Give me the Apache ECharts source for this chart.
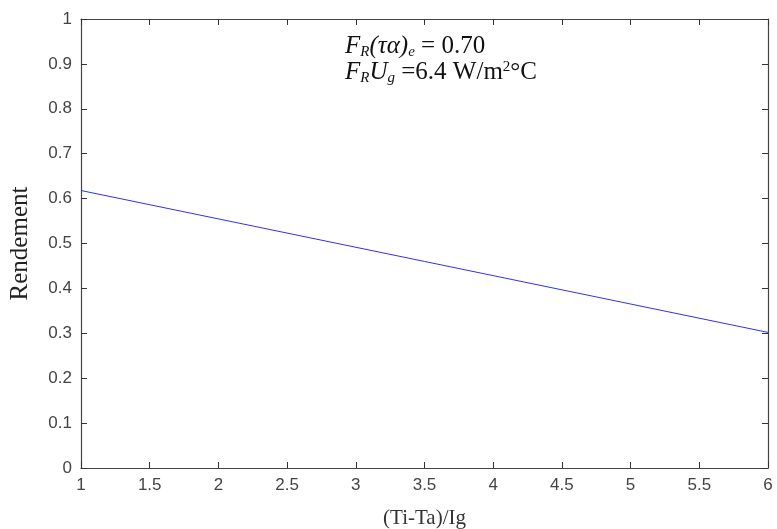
<!DOCTYPE html>
<html><head><meta charset="utf-8">
<script src="https://cdn.jsdelivr.net/npm/echarts@6/dist/echarts.min.js"></script>
<style>html,body{margin:0;padding:0;background:#fff}#c{width:777px;height:529px}</style>
</head><body><div id="c"></div>
<script>
const xValues = [1, 6];
const yValues = [0.618, 0.302];
const xTicks = [1, 1.5, 2, 2.5, 3, 3.5, 4, 4.5, 5, 5.5, 6];
const yTicks = [0, 0.1, 0.2, 0.3, 0.4, 0.5, 0.6, 0.7, 0.8, 0.9, 1];
const xTitle = '(Ti-Ta)/Ig';
const yTitle = 'Rendement';

const chart = echarts.init(document.getElementById('c'));
const axisLine = {show: true, onZero: false, lineStyle: {color: '#444', width: 1.2}};
const tick = {show: true, inside: true, length: 6, lineStyle: {color: '#333', width: 1}};
const lbl = {color: '#444', fontFamily: 'Liberation Sans, Arial', fontSize: 17};
const serif = 'Liberation Serif, Times New Roman, serif';
const fmt = v => String(Math.round(v * 10) / 10);
chart.setOption({
  animation: false,
  grid: {left: 81, right: 9, top: 19, bottom: 61, containLabel: false, outerBoundsMode: 'none'},
  xAxis: [{
    type: 'value', min: 1, max: 6, interval: 0.5,
    axisLine, axisTick: tick, splitLine: {show: false},
    axisLabel: Object.assign({margin: 9, formatter: fmt}, lbl),
    name: xTitle, nameLocation: 'middle', nameGap: 40,
    nameTextStyle: {fontFamily: serif, fontSize: 21, color: '#333'}
  }, {
    type: 'value', min: 1, max: 6, interval: 0.5, position: 'top',
    axisLine, axisTick: tick, axisLabel: {show: false}, splitLine: {show: false}
  }],
  yAxis: [{
    type: 'value', min: 0, max: 1, interval: 0.1,
    axisLine, axisTick: tick, splitLine: {show: false},
    axisLabel: Object.assign({margin: 9, formatter: fmt}, lbl),
    name: yTitle, nameLocation: 'middle', nameGap: 48,
    nameTextStyle: {fontFamily: serif, fontSize: 25, color: '#222'}
  }, {
    type: 'value', min: 0, max: 1, interval: 0.1, position: 'right',
    axisLine, axisTick: tick, axisLabel: {show: false}, splitLine: {show: false}
  }],
  series: [{
    type: 'line', data: xValues.map((x, i) => [x, yValues[i]]),
    symbol: 'none', lineStyle: {color: '#3030ee', width: 1}
  }],
  graphic: [{
    type: 'text', left: 345, top: 34,
    style: {
      rich: {
        i: {fontFamily: serif, fontStyle: 'italic', fontSize: 25, lineHeight: 26, fill: '#111'},
        n: {fontFamily: serif, fontSize: 25, lineHeight: 26, fill: '#111'},
        sb: {fontFamily: serif, fontStyle: 'italic', fontSize: 15, lineHeight: 16, verticalAlign: 'bottom', fill: '#111'},
        sp: {fontFamily: serif, fontSize: 15, lineHeight: 16, verticalAlign: 'top', fill: '#111'}
      },
      text: '{i|F}{sb|R}{i|(τα)}{sb|e}{n| = 0.70}\n{i|F}{sb|R}{i|U}{sb|g}{n| =6.4 W/m}{sp|2}{n|°C}'
    }
  }]
});
</script></body></html>
